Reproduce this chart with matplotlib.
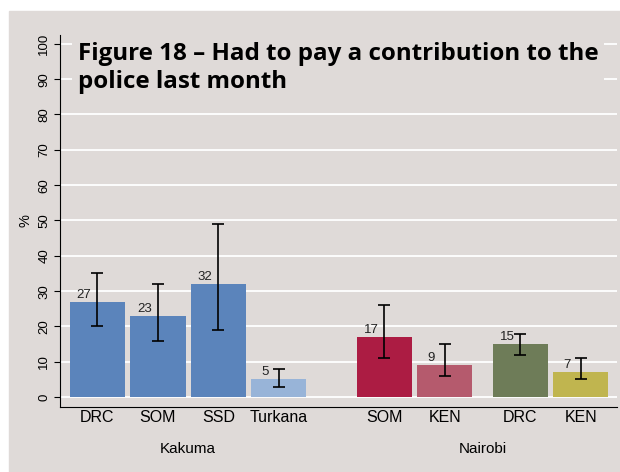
#!/usr/bin/env python3

import matplotlib.pyplot as plt
from matplotlib.patches import Rectangle

# chart data
groups = ['Kakuma', 'Nairobi']
labels = ['DRC', 'SOM', 'SSD', 'Turkana', 'SOM', 'KEN', 'DRC', 'KEN']
values = [27, 23, 32, 5, 17, 9, 15, 7]
err_low = [20, 16, 19, 3, 11, 6, 12, 5]
err_high = [35, 32, 49, 8, 26, 15, 18, 11]
colors = ['#5b84bb', '#5b84bb', '#5b84bb', '#98b4d8',
          '#ac1c43', '#b55a6d', '#6e7c58', '#c0b54f']
xpos = [0, 1, 2, 3, 4.75, 5.75, 7, 8]

bg = '#dfdad8'

plt.rcParams['font.family'] = ['Liberation Sans', 'DejaVu Sans']

fig = plt.figure(figsize=(6.2, 4.72), dpi=100, facecolor='white')
fig.patches.append(Rectangle((9 / 620, 0), 1, 1 - 11 / 472,
                             transform=fig.transFigure, color=bg, zorder=-5))

ax = fig.add_axes([60 / 620, 1 - 407 / 472, 557 / 620, 372 / 472])
ax.set_zorder(2)
ax.patch.set_alpha(0)

ax.bar(xpos, values, width=0.915, color=colors, zorder=2)

lo = [v - l for v, l in zip(values, err_low)]
hi = [h - v for v, h in zip(values, err_high)]
ax.errorbar(xpos, values, yerr=[lo, hi], fmt='none', ecolor='black',
            elinewidth=1.2, capsize=4, capthick=1.2, zorder=3)

for x, v in zip(xpos, values):
    ax.text(x - 0.22, v + 0.3, str(v), ha='center', va='bottom',
            fontsize=9.5, color='#222222', zorder=4)

ax.set_ylim(-2.8, 102.5)
ax.set_xlim(-0.62, 8.6)
ax.set_yticks(range(0, 101, 10))
ax.set_yticklabels([str(t) for t in range(0, 101, 10)], rotation=90,
                   va='center', fontsize=9.5)
ax.yaxis.grid(True, color='white', linewidth=1.3, zorder=1)
ax.set_axisbelow(True)
ax.set_xticks(xpos)
ax.set_xticklabels(labels, fontsize=11.5)
ax.tick_params(axis='x', length=0, pad=2)
ax.tick_params(axis='y', length=4, pad=3)
for s in ['top', 'right']:
    ax.spines[s].set_visible(False)
ax.set_ylabel('%', fontsize=10.5, labelpad=4)

# group labels under the categories
ax.text(1.5, -14.7, groups[0], ha='center', va='center', fontsize=11,
        clip_on=False)
ax.text(6.38, -14.7, groups[1], ha='center', va='center', fontsize=11,
        clip_on=False)

title = fig.text(78 / 620, 1 - 68 / 472,
                 'Figure 18 – Had to pay a contribution to the\npolice last month',
                 fontsize=17.4, fontweight='bold', family=['Open Sans', 'DejaVu Sans'],
                 va='center', ha='left', linespacing=1.2, color='black',
                 zorder=5)
title.set_bbox(dict(facecolor=bg, edgecolor='none', pad=4))

plt.savefig('out.png', dpi=100, facecolor='white')
